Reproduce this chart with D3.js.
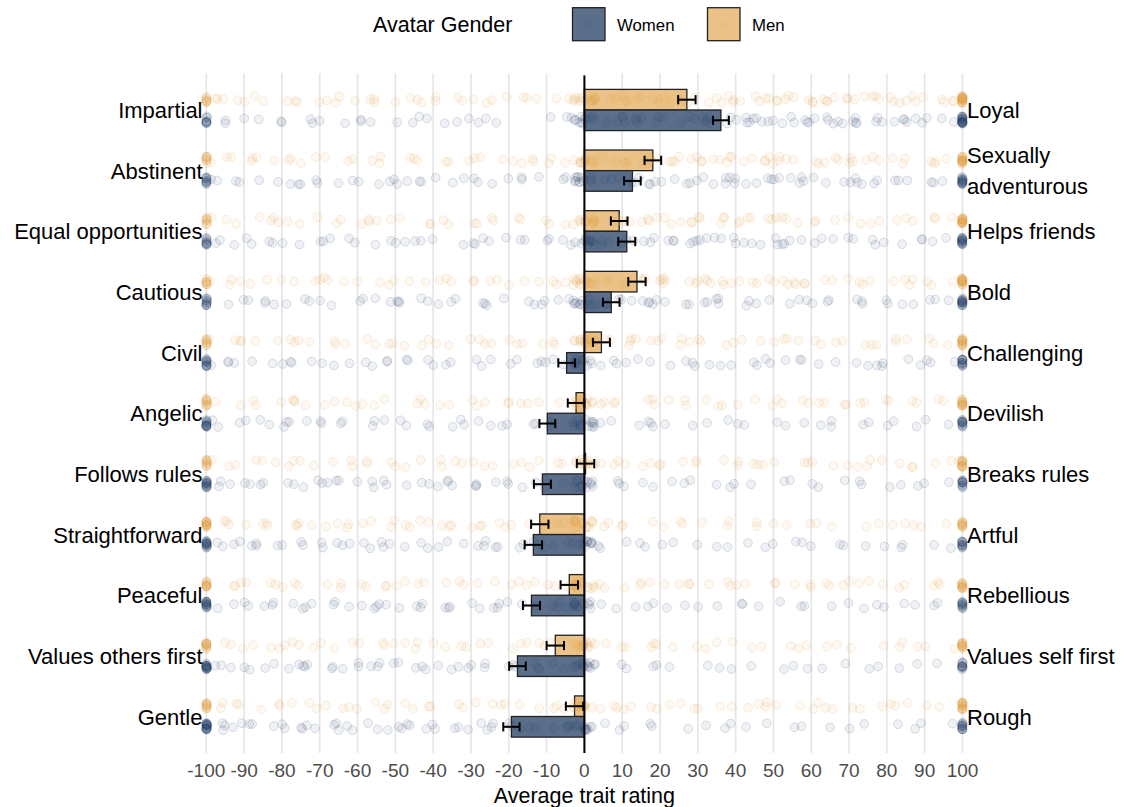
<!DOCTYPE html>
<html><head><meta charset="utf-8">
<script src="https://cdn.jsdelivr.net/npm/d3@7"></script>
<style>body{margin:0;background:#fff;} text{font-family:"Liberation Sans",Arial,sans-serif;}</style>
</head><body><svg id="chart" width="1122" height="807"></svg>
<script>
// ---------------- DATA ----------------
const leftTraits = ["Impartial","Abstinent","Equal opportunities","Cautious","Civil","Angelic","Follows rules","Straightforward","Peaceful","Values others first","Gentle"];
const rightTraits = ["Loyal","Sexually adventurous","Helps friends","Bold","Challenging","Devilish","Breaks rules","Artful","Rebellious","Values self first","Rough"];
const menMeans   = [27.1, 18.1, 9.2, 13.9, 4.5, -2.2, 0.3, -11.8, -4.0, -7.7, -2.6];
const menSE      = [2.3, 2.2, 2.2, 2.3, 2.25, 2.2, 2.3, 2.3, 2.3, 2.3, 2.3];
const womenMeans = [36.1, 12.7, 11.2, 7.1, -4.7, -9.8, -11.1, -13.5, -14.0, -17.7, -19.3];
const womenSE    = [2.1, 2.2, 2.25, 2.2, 2.2, 2.1, 2.25, 2.3, 2.25, 2.2, 2.15];
const xTickValues = [-100,-90,-80,-70,-60,-50,-40,-30,-20,-10,0,10,20,30,40,50,60,70,80,90,100];
const genders = ["Women","Men"];
// individual ratings (approximate), "vxN" = value repeated N times
const menRatings = [
 "-100x10 -98 -95 -93 -90 -88 -85 -82 -80 -77 -74 -71 -69 -66 -63 -61 -58 -56 -53 -50 -48 -45 -42 -40 -37 -35 -32 -29 -27 -24 -21 -19 -16 -13 -10 -7 -5 -2 0x10 2 4 6 8 10x2 12 14 16 18 20x2 22 24 26 28 30x2 32 34 36 38 40x2 42 44 46 48 50x3 52 54 56 58 60x2 62 64 66 68 70x2 72 74 76 78 80x2 82 84 86 88 90x2 92 94 96 98 100x24",
 "-100x10 -98 -96 -93 -90 -87 -84 -81 -78 -75 -72 -69 -66 -63 -60 -57 -54 -51 -48 -45 -42 -39 -36 -33 -30 -27 -24 -21 -18 -15 -12 -9 -6 -3 0x10 2 4 6 8 10 12 14 16x2 18 20 22 24x2 26 28 30 32x2 34 36 38 40x2 42 44 46 48 50x2 52 54 56 58 60 62 64 66 68 70x2 72 74 76 78 80 83 86 89 92 95 98 100x20",
 "-100x10 -97 -94 -91 -88 -85 -82 -79 -76 -73 -70 -67 -64 -61 -58 -55 -52 -49 -46 -43 -40 -37 -34 -31 -28 -25 -22 -19 -16 -13 -10 -7 -4 0x10 2 4 6 8 10x2 12 14 16 18 20x2 22 24 26 28 30 32 34 36 38 40 42 44 46 48 50x2 52 55 58 61 64 67 70 73 76 79 82 85 88 91 94 97 100x20",
 "-100x10 -98 -95 -92 -89 -86 -83 -80 -77 -74 -71 -68 -65 -62 -59 -56 -53 -50 -47 -44 -41 -38 -35 -32 -29 -26 -23 -20 -17 -14 -11 -8 -5 -2 0x12 2 4 6 8 10 12 14 16 18 20x2 22 24 26 28 30x2 32 34 36 38 40 42 44 46 48 50x2 52 54 56 58 60 62 64 67 70 73 76 79 82 85 88 91 94 97 100x20",
 "-100x11 -98 -95 -92 -89 -86 -83 -80 -77 -74 -71 -68 -65 -62 -59 -56 -53 -50 -47 -44 -41 -38 -35 -32 -29 -26 -23 -20 -17 -14 -11 -8 -5 -2 0x12 2 4 6 8 10 12 14 16 18 20 22 24 26 28 30 33 36 39 42 45 48 51 54 57 60 63 66 69 72 75 78 81 84 87 90 93 96 100x18",
 "-100x12 -98 -95 -92 -89 -86 -83 -80 -77 -74 -71 -68 -65 -62 -59 -56 -53 -50 -47 -44 -41 -38 -35 -32 -29 -26 -23 -20 -17 -14 -11 -8 -5 -2 0x12 2 5 8 11 14 17 20 23 26 29 32 35 38 41 44 47 50 53 56 59 62 65 68 71 74 77 80 83 86 89 92 95 98 100x16",
 "-100x12 -97 -94 -91 -88 -85 -82 -79 -76 -73 -70 -67 -64 -61 -58 -55 -52 -49 -46 -43 -40 -37 -34 -31 -28 -25 -22 -19 -16 -13 -10 -7 -4 -2 0x12 2 5 8 11 14 17 20 23 26 29 32 35 38 41 44 47 50 53 56 59 62 65 68 71 74 77 80 83 86 89 92 95 98 100x16",
 "-100x16 -98 -96 -93 -91 -88 -86 -83 -81 -78 -76 -73 -71 -68 -66 -63 -61 -58 -56 -53 -51 -48 -46 -43 -41 -38 -36 -33 -31 -28 -26 -23 -21 -18 -16 -13 -11 -8 -6 -3 0x12 3 6 9 12 16 20 24 28 32 36 40 44 48 52 56 60 64 68 72 76 80 84 88 92 96 100x14",
 "-100x13 -98 -95 -93 -90 -87 -84 -81 -78 -75 -73 -70 -67 -64 -61 -58 -55 -52 -49 -46 -43 -40 -37 -34 -31 -28 -25 -22 -19 -16 -13 -10 -7 -4 -2 0x12 3 6 9 12 15 18 21 24 27 30 33 36 39 42 45 48 51 54 57 60 63 66 69 72 75 78 81 84 87 90 93 96 100x15",
 "-100x14 -98 -96 -93 -90 -88 -85 -82 -79 -77 -74 -71 -68 -65 -62 -59 -56 -53 -50 -48 -45 -42 -39 -36 -33 -30 -27 -24 -21 -18 -15 -12 -9 -6 -3 0x12 3 6 9 12 15 18 21 25 29 33 37 41 45 49 53 57 61 65 69 73 77 81 85 89 93 97 100x15",
 "-100x13 -98 -95 -92 -89 -86 -83 -80 -77 -74 -71 -68 -65 -62 -59 -56 -53 -50 -47 -44 -41 -38 -35 -32 -29 -26 -23 -20 -17 -14 -11 -8 -5 -2 0x12 3 5 8 11 14 17 20 23 26 29 32 35 38 41 44 47 50 53 56 59 62 65 68 71 74 77 80 84 88 92 96 100x18"
];
const womenRatings = [
 "-100x11 -97 -94 -90 -85 -82 -78 -75 -71 -68 -64 -61 -57 -54 -50 -47 -44 -41 -38 -35 -32 -28 -25 -22 -10 -6 -3 0x10 2 4 6 8 10 12x2 14 16 18 20 22x2 24 26 28 30x2 32 34x2 36 38 40x2 42 44 46x2 48 50x2 52 54 56x2 58 60 62x2 64 66 68x2 70 72 74x2 76 78 80x2 82 84 86 88 90 92 94 96 98 100x26",
 "-100x13 -98 -95 -92 -89 -86 -83 -80 -77 -74 -71 -68 -65 -62 -59 -56 -53 -50x2 -47 -44 -41 -38 -35 -32 -29 -26 -23 -20 -17 -14 -11 -8 -5 -2 0x10 2 4 6 8 10 12 14 16 18 20x2 22 24 26 28 30 32 34 36 38 40x2 42 44 46 48 50x2 52 54 56 58 60 62 64 66 68 70 72 74 76 79 82 85 88 91 94 97 100x20",
 "-100x13 -98 -95 -92 -89 -86 -83 -80 -77 -74 -71 -68 -65 -62 -59 -56 -53 -50 -47 -44 -41 -38 -35 -32 -29 -26 -23 -20 -17 -14 -11 -8 -5 -2 0x10 2 4 6 8 10 12 14 16 18 20x2 22 24 26 28 30x2 32 34 36 38 40 42 44 46 48 50x2 52 54 57 60 63 66 69 72 75 78 81 84 87 90 93 96 100x20",
 "-100x13 -98 -95 -92 -89 -86 -83 -80 -77 -74 -71 -68 -65 -62 -59 -56 -53 -50x2 -47 -44 -41 -38 -35 -32 -29 -26 -23 -20 -17 -14 -11 -8 -5 -2 0x12 2 4 6 8 10 12 14 16 18 20 22 24 26 28 30 32 34 36 38 40 43 46 49 52 55 58 61 64 67 70 73 76 79 82 85 88 91 94 97 100x20",
 "-100x16 -98 -96 -93 -90 -87 -84 -81 -78 -75 -72 -69 -66 -63 -60 -57 -54 -51 -48 -45 -42 -39 -36 -33 -30 -27 -24 -21 -18 -15 -12 -9 -6 -3 0x12 3 6 9 12 15 18 21 24 27 30 33 36 39 42 45 48 51 54 57 60 63 66 69 72 75 78 81 84 87 90 93 96 100x17",
 "-100x18 -98 -96 -94 -91 -88 -85 -82 -79 -76 -73 -70 -67 -64 -61 -58 -55 -52 -49 -46 -43 -40 -37 -34 -31 -28 -25 -22 -19 -16 -13 -10 -7 -4 -2 0x12 3 6 9 12 15 18 21 24 28 32 36 40 44 48 52 56 60 64 68 72 76 80 84 88 92 96 100x16",
 "-100x19 -98 -96 -93 -91 -88 -86 -83 -81 -78 -76 -73 -71 -68 -66 -63 -61 -58 -56 -53 -51 -48 -46 -43 -41 -38 -36 -33 -31 -28 -26 -23 -21 -18 -16 -13 -11 -8 -6 -3 0x12 3 6 9 12 15 18 22 26 30 34 38 42 46 50 54 58 62 66 70 74 78 82 86 90 95 100x15",
 "-100x19 -98 -96 -94 -91 -89 -86 -84 -81 -79 -76 -74 -71 -69 -66 -64 -61 -59 -56 -54 -51 -49 -46 -44 -41 -39 -36 -34 -31 -29 -26 -24 -21 -19 -16 -14 -11 -9 -6 -3 0x12 3 6 10 14 18 22 26 30 34 38 42 46 50 54 58 62 66 70 74 78 82 86 90 95 100x15",
 "-100x19 -98 -95 -93 -90 -88 -85 -83 -80 -78 -75 -73 -70 -68 -65 -63 -60 -58 -55 -53 -50 -48 -45 -43 -40 -38 -35 -33 -30 -28 -25 -23 -20 -18 -15 -13 -10 -8 -5 -3 0x12 3 7 11 15 19 23 27 31 35 39 43 47 51 55 59 63 67 71 75 79 83 87 91 95 100x15",
 "-100x20 -98 -96 -94 -92 -89 -87 -85 -82 -80 -78 -75 -73 -71 -68 -66 -64 -61 -59 -57 -54 -52 -50 -47 -45 -43 -40 -38 -36 -33 -31 -29 -26 -24 -22 -19 -17 -15 -12 -10 -8 -5 -3 0x12 4 8 12 16 20 25 30 35 40 45 50 55 60 65 70 75 80 85 90 95 100x14",
 "-100x24 -98 -96 -94 -92 -90 -88 -85 -83 -81 -79 -77 -75 -72 -70 -68 -66 -64 -62 -59 -57 -55 -53 -51 -49 -46 -44 -42 -40 -38 -36 -33 -31 -29 -27 -25 -23 -20 -18 -16 -14 -12 -10 -7 -5 -3 0x12 4 8 12 16 20 25 30 35 40 45 50 55 60 65 70 75 80 85 90 95 100x16"
];

// ---------------- CHART ----------------
const svg = d3.select("#chart");
const colors = {Women: {bar: "#5b6f8b", pt: "#2a4670"}, Men: {bar: "#ebc388", pt: "#e39e3e"}};

const x = d3.scaleLinear().domain([-100, 100]).range([206.3, 962.5]);
const y = d3.scalePoint().domain(leftTraits).range([73.6, 752.9]).padding(0.6);
const barH = 20.6;
const panelTop = 73.6, panelBot = 752.9;

function parseRatings(s) {
  const out = [];
  s.trim().split(/\s+/).forEach(tok => {
    const [v, n] = tok.split("x");
    const k = n ? +n : 1;
    for (let j = 0; j < k; j++) out.push(+v);
  });
  return out;
}
// deterministic jitter offset in [-0.5, 0.5) (layout only, like geom_jitter)
function jit(i, s, k) {
  const v = Math.sin(i * 127.1 + s * 311.7 + k * 74.7) * 43758.5453;
  return v - Math.floor(v) - 0.5;
}

// gridlines
svg.append("g").selectAll("line").data(xTickValues).join("line")
  .attr("x1", d => x(d)).attr("x2", d => x(d))
  .attr("y1", panelTop).attr("y2", panelBot)
  .attr("stroke", "#e6e6e6").attr("stroke-width", 1.7);

const rows = leftTraits.map((t, i) => ({
  trait: t, right: rightTraits[i],
  Men: {mean: menMeans[i], se: menSE[i], pts: parseRatings(menRatings[i])},
  Women: {mean: womenMeans[i], se: womenSE[i], pts: parseRatings(womenRatings[i])}
}));
const offsets = {Men: -1, Women: 0};

// bars
const gBars = svg.append("g");
rows.forEach(r => {
  ["Men", "Women"].forEach(g => {
    const m = r[g].mean;
    gBars.append("rect")
      .attr("x", x(Math.min(0, m))).attr("width", Math.abs(x(m) - x(0)))
      .attr("y", y(r.trait) + offsets[g] * barH).attr("height", barH)
      .attr("fill", colors[g].bar).attr("stroke", "#222").attr("stroke-width", 1.3);
  });
});

// points
const gPts = svg.append("g");
rows.forEach((r, ri) => {
  ["Men", "Women"].forEach((g, gi) => {
    const cy = y(r.trait) + (g === "Men" ? -10.5 : 10);
    const s = ri * 2 + gi + 1;
    gPts.selectAll(null).data(r[g].pts).join("circle")
      .attr("cx", (d, i) => x(Math.max(-100, Math.min(100, d + jit(i, s, 1) * (Math.abs(d) === 100 ? 0.4 : 6)))))
      .attr("cy", (d, i) => cy + jit(i, s, 2) * 7.5)
      .attr("r", 4.4)
      .attr("fill", colors[g].pt).attr("fill-opacity", 0.075)
      .attr("stroke", colors[g].pt).attr("stroke-opacity", 0.16).attr("stroke-width", 1);
  });
});

// zero line
svg.append("line").attr("x1", x(0)).attr("x2", x(0)).attr("y1", panelTop + 2).attr("y2", panelBot)
  .attr("stroke", "#000").attr("stroke-width", 2);

// error bars
const gErr = svg.append("g").attr("stroke", "#000").attr("stroke-width", 2);
rows.forEach(r => {
  ["Men", "Women"].forEach(g => {
    const cy = y(r.trait) + offsets[g] * barH + barH / 2;
    const lo = x(r[g].mean - r[g].se), hi = x(r[g].mean + r[g].se);
    gErr.append("line").attr("x1", lo).attr("x2", hi).attr("y1", cy).attr("y2", cy);
    gErr.append("line").attr("x1", lo).attr("x2", lo).attr("y1", cy - 4.6).attr("y2", cy + 4.6);
    gErr.append("line").attr("x1", hi).attr("x2", hi).attr("y1", cy - 4.6).attr("y2", cy + 4.6);
  });
});

// left labels
svg.append("g").selectAll("text").data(rows).join("text")
  .attr("x", 202.5).attr("y", d => y(d.trait) + 8)
  .attr("text-anchor", "end").attr("font-size", 22).attr("fill", "#000")
  .text(d => d.trait);

// right labels (wrap long ones)
const gR = svg.append("g");
rows.forEach(r => {
  const c = y(r.trait);
  const lines = r.right === "Sexually adventurous" ? ["Sexually", "adventurous"] : [r.right];
  lines.forEach((ln, k) => {
    const off = lines.length === 1 ? 0 : (k === 0 ? -15.3 : 15.3);
    gR.append("text").attr("x", 967).attr("y", c + off + 8)
      .attr("font-size", 22).attr("fill", "#000").text(ln);
  });
});

// x axis tick labels
svg.append("g").selectAll("text").data(xTickValues).join("text")
  .attr("x", d => x(d)).attr("y", 776.7).attr("text-anchor", "middle")
  .attr("font-size", 19).attr("fill", "#4d4d4d").text(d => d);

svg.append("text").attr("x", x(0)).attr("y", 802.5).attr("text-anchor", "middle")
  .attr("font-size", 21.5).attr("fill", "#000").text("Average trait rating");

// legend
svg.append("text").attr("x", 373).attr("y", 31.7).attr("font-size", 21.5).attr("fill", "#000").text("Avatar Gender");
const legendX = {Women: 572.5, Men: 707.5};
genders.forEach(g => {
  svg.append("rect").attr("x", legendX[g]).attr("y", 7.7).attr("width", 32.5).attr("height", 33)
    .attr("fill", colors[g].bar).attr("stroke", "#222").attr("stroke-width", 1.3);
  svg.append("circle").attr("cx", legendX[g] + 16.2).attr("cy", 24.2).attr("r", 4)
    .attr("fill", colors[g].pt).attr("fill-opacity", 0.12);
  svg.append("text").attr("x", legendX[g] + 44.5).attr("y", 31).attr("font-size", 16.8)
    .attr("fill", "#000").text(g);
});
</script></body></html>
